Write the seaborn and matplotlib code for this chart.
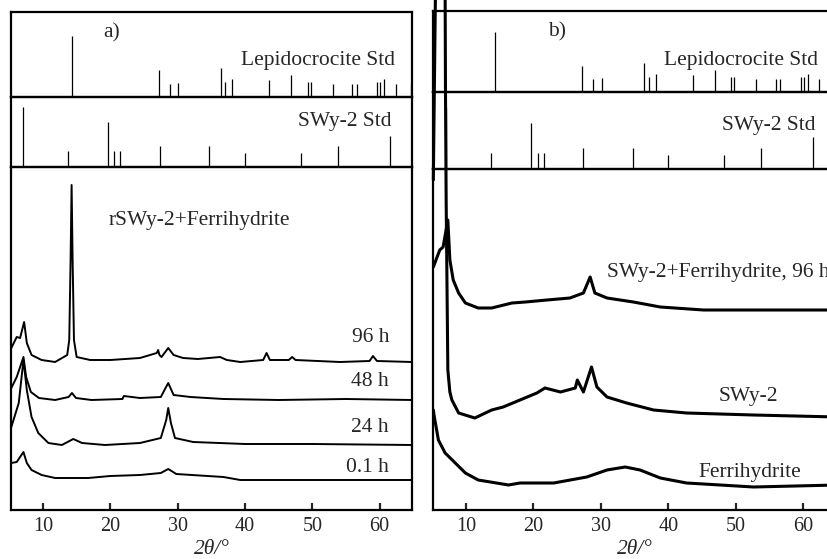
import matplotlib
matplotlib.use("Agg")
import matplotlib.pyplot as plt
import seaborn as sns
import pandas as pd

# stick patterns (2theta, relative intensity)
lepi_pos = [14.3, 27.2, 28.8, 30.1, 36.4, 37.1, 38.1, 43.6, 46.9, 49.3, 49.8,
            53.0, 55.9, 56.6, 59.6, 60.1, 60.7, 62.4, 64.7]
lepi_int = [100, 44, 21, 23, 48, 25, 30, 28, 36, 25, 25, 21, 21, 21, 25, 25, 30, 21, 21]

swy_pos = [7.0, 13.7, 19.7, 20.6, 21.5, 27.4, 34.7, 40.0, 48.3, 53.8, 61.5]
swy_int = [100, 27, 75, 27, 27, 35, 35, 23, 23, 35, 52]

# panel a: rSWy-2 + ferrihydrite, offset patterns (arb. units)
t96 = [5.3, 6.1, 6.6, 7.2, 7.6, 8.3, 9.8, 11.8, 13.6, 13.9, 14.1, 14.25, 14.4, 14.6, 15.0,
       17, 20, 24.4, 26.9, 27.1, 27.3, 27.6, 28.6, 29.4, 30.8, 33, 36.3, 37.3, 39.3, 42.7,
       43.2, 43.7, 46.5, 47.0, 47.5, 54.1, 58.5, 59.0, 59.6, 64.8]
i96 = [162, 173, 172, 188, 167, 155, 150, 148, 155, 170, 250, 325, 250, 170, 153,
       150, 150, 152, 157, 160, 155, 153, 162, 155, 152, 151, 153, 150, 148, 150,
       157, 150, 150, 153, 150, 148, 149, 154, 149, 148]

t48 = [5.3, 6.1, 7.1, 7.5, 8.2, 9.4, 11.8, 13.8, 14.3, 14.9, 17.2, 21.8, 22.0, 24.4,
       27.5, 28.2, 28.6, 29.0, 29.4, 31.9, 36.8, 45, 55, 64.8]
i48 = [122, 133, 153, 133, 118, 112, 110, 113, 117, 112, 110, 111, 114, 112,
       113, 122, 127, 121, 115, 113, 111, 110, 111, 110]

t24 = [5.3, 6.4, 7.1, 7.6, 8.3, 9.3, 10.8, 12.8, 14.5, 15.8, 19.2, 24.4, 27.5, 28.3,
       28.6, 29.0, 29.6, 32.3, 40, 50, 64.8]
i24 = [83, 107, 150, 120, 93, 77, 67, 65, 71, 67, 65, 67, 72, 90,
       102, 87, 72, 68, 66, 66, 65]

t01 = [5.3, 6.1, 7.1, 7.6, 8.3, 9.8, 11.8, 16.7, 20, 24.4, 27.5, 28.6, 29.8, 36.8,
       39.3, 50, 64.8]
i01 = [47, 48, 58, 47, 40, 35, 32, 32, 34, 35, 37, 41, 36, 33, 30, 30, 30]

# panel b
tmix = [5.15, 6.1, 6.6, 7.3, 7.6, 8.1, 8.9, 9.9, 11.8, 13.8, 16.8, 18.8, 22.0, 25.4,
        27.4, 28.4, 29.1, 30.9, 34.8, 38.8, 45.2, 52.6, 65]
imix = [243, 260, 263, 290, 250, 230, 217, 207, 202, 202, 207, 208, 210, 212,
        217, 233, 217, 212, 208, 203, 200, 200, 200]

tswy = [5.15, 5.6, 6.0, 6.4, 6.7, 6.95, 7.05, 7.3, 7.6, 7.9, 8.9, 11.3, 13.8, 15.5,
        18.0, 20.5, 21.7, 24.0, 26.2, 26.5, 27.4, 28.6, 29.4, 30.9, 33.8, 37.8, 42.7,
        52.6, 65]
iswy = [330, 600, 1100, 1300, 900, 420, 310, 140, 118, 110, 97, 92, 100, 103,
        110, 117, 122, 118, 122, 130, 118, 143, 123, 113, 107, 100, 97, 95, 93]

tfh = [5.15, 5.3, 5.9, 6.9, 8.4, 9.9, 11.8, 16.3, 18.0, 23.0, 27.9, 30.9, 33.6, 35.8,
       38.8, 42.7, 47.7, 52.6, 65]
ifh = [100, 93, 70, 57, 47, 37, 30, 25, 27, 27, 33, 40, 43, 40, 32, 27, 25, 23, 25]

sns.set_style("ticks")
plt.rcParams['font.family'] = ['Liberation Serif', 'DejaVu Serif']
plt.rcParams['axes.linewidth'] = 1.6
FS = 15.5

fig = plt.figure(figsize=(8.27, 5.59), dpi=100)

W, H = 827, 559


def box(x0, y0, x1, y1):
    # pixel box -> figure fraction rect
    return [x0 / W, 1 - y1 / H, (x1 - x0) / W, (y1 - y0) / H]


def style(ax, xlim, bottom=False):
    ax.set_xlim(*xlim)
    ax.set_facecolor('none')
    ax.set_yticks([])
    ax.set_ylabel('')
    for s in ax.spines.values():
        s.set_color('black')
    if bottom:
        ax.set_xticks([10, 20, 30, 40, 50, 60])
        ax.tick_params(axis='x', direction='in', length=5, width=1.6,
                       labelsize=14.5, pad=5, top=False)
    else:
        ax.set_xticks([])
        ax.set_xlabel('')


def sticks(ax, pos, inten, ytop):
    ax.vlines(pos, 0, inten, color='black', lw=0.9)
    ax.set_ylim(0, ytop)


panels = [
    dict(x0=11, x1=412, ys=(12, 97, 167, 510), xlim=(5.25, 64.8),
         lepi_top=139, swy_top=117, tag='a)', tagx=0.252, tagy=0.75,
         ltx=0.958, lty=0.435, stx=0.950, sty=0.643),
    dict(x0=433, x1=837, ys=(11, 92, 169, 510), xlim=(5.1, 65),
         lepi_top=135, swy_top=126, tag='b)', tagx=0.307, tagy=0.74,
         ltx=0.954, lty=0.395, stx=0.946, sty=0.571),
]

axes = []
for p in panels:
    y0, y1, y2, y3 = p['ys']
    ax_l = fig.add_axes(box(p['x0'], y0, p['x1'], y1))
    ax_s = fig.add_axes(box(p['x0'], y1, p['x1'], y2))
    ax_m = fig.add_axes(box(p['x0'], y2, p['x1'], y3))
    sticks(ax_l, lepi_pos, lepi_int, p['lepi_top'])
    sticks(ax_s, swy_pos, swy_int, p['swy_top'])
    ax_m.set_ylim(0, y3 - y2)
    style(ax_l, p['xlim'])
    style(ax_s, p['xlim'])
    style(ax_m, p['xlim'], bottom=True)
    ax_l.text(p['tagx'], p['tagy'], p['tag'], transform=ax_l.transAxes,
              ha='center', va='center', fontsize=FS)
    ax_l.text(p['ltx'], p['lty'], 'Lepidocrocite Std', transform=ax_l.transAxes,
              ha='right', va='center', fontsize=FS)
    ax_s.text(p['stx'], p['sty'], 'SWy-2 Std', transform=ax_s.transAxes,
              ha='right', va='center', fontsize=FS)
    axes.append(ax_m)

ax_a, ax_b = axes

for t, i, lab, ly in [(t96, i96, '96 h', 172), (t48, i48, '48 h', 128),
                      (t24, i24, '24 h', 82), (t01, i01, '0.1 h', 43)]:
    df = pd.DataFrame({'theta': t, 'I': i})
    sns.lineplot(data=df, x='theta', y='I', ax=ax_a, color='black', lw=1.4,
                 estimator=None, sort=False)
    ax_a.text(61.4, ly, lab, ha='right', va='center', fontsize=FS)
ax_a.text(33.2, 290, 'rSWy-2+Ferrihydrite', ha='center', va='center', fontsize=FS)

for t, i, clip in [(tmix, imix, True), (tswy, iswy, False), (tfh, ifh, True)]:
    df = pd.DataFrame({'theta': t, 'I': i})
    sns.lineplot(data=df, x='theta', y='I', ax=ax_b, color='black', lw=2.2,
                 estimator=None, sort=False)
    ax_b.lines[-1].set_clip_on(clip)
ax_b.text(30.9, 238, 'SWy-2+Ferrihydrite, 96 h', ha='left', va='center', fontsize=FS)
ax_b.text(47.4, 113, 'SWy-2', ha='left', va='center', fontsize=FS)
ax_b.text(44.4, 37, 'Ferrihydrite', ha='left', va='center', fontsize=FS)

for ax in (ax_a, ax_b):
    ax.set_ylabel('')
    ax.set_xlabel('2θ/°', fontsize=FS, fontstyle='italic', labelpad=3)

fig.savefig('out.png', dpi=100)
